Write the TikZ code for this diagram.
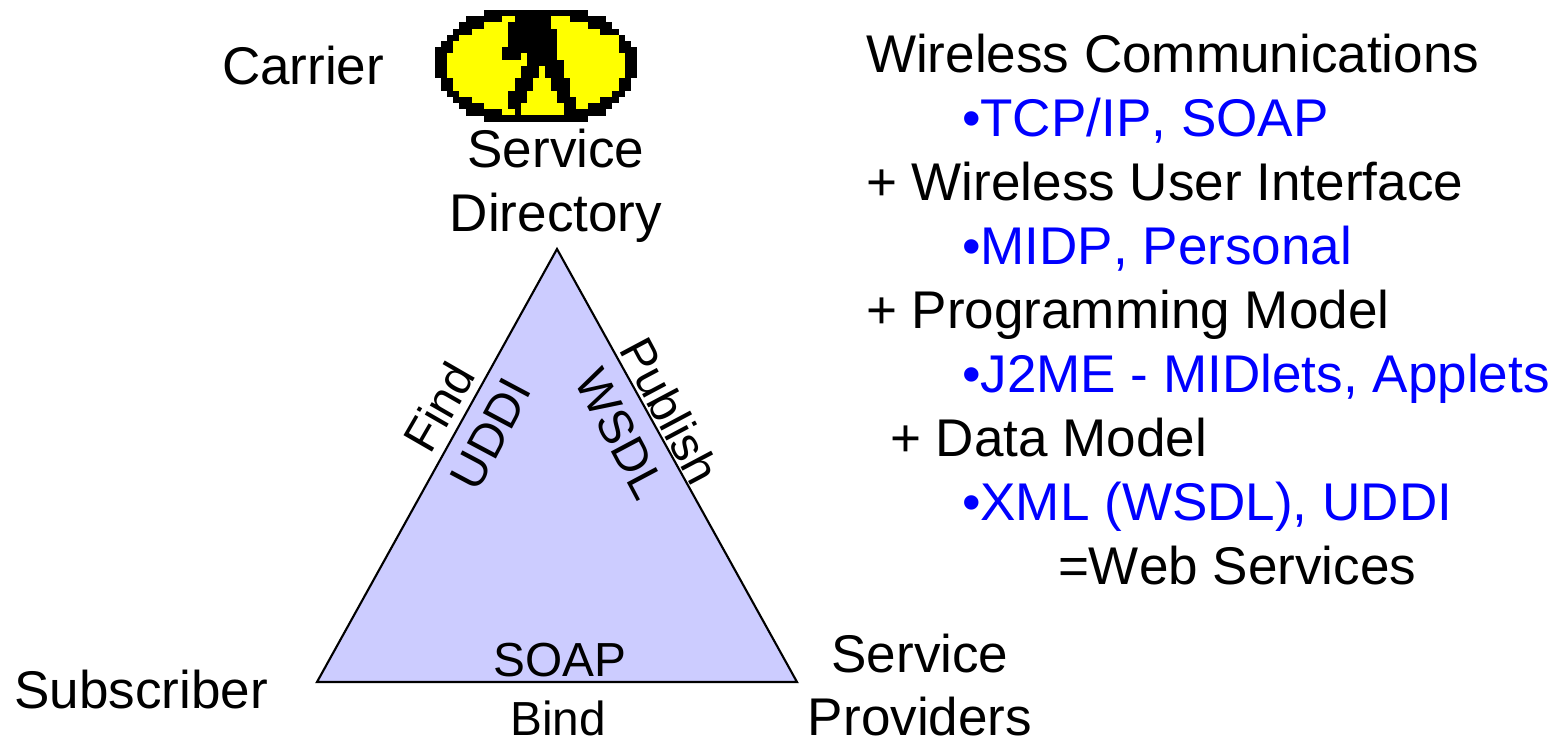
\documentclass[tikz,border=0pt]{standalone}
\usepackage{fontspec}
\setmainfont[Kerning=Off]{Liberation Sans}
\definecolor{triblue}{RGB}{204,204,255}
\definecolor{textblue}{RGB}{0,0,255}
\definecolor{iconyellow}{RGB}{255,255,0}
\tikzset{
    lbl/.style={inner sep=0pt,outer sep=0pt,align=center,font=\fontsize{30.2}{36.3}\selectfont},
    small/.style={lbl,font=\fontsize{27.2}{36.3}\selectfont},
    item/.style={inner sep=0pt,outer sep=0pt,anchor=base west,font=\fontsize{30.2}{36.3}\selectfont},
    bluetext/.style={item,text=textblue},
}
\begin{document}
\begin{tikzpicture}[x=0.02cm,y=-0.02cm]
        \useasboundingbox (0,0) rectangle (1560,738);
        \foreach \r/\a/\b in {0/8/25,1/5/28,2/4/29,3/3/30,4/2/31,5/1/32,6/0/33,7/0/33,8/0/33,9/0/33,10/0/33,11/1/32,12/1/32,13/2/31,14/3/30,15/4/29,16/5/28,17/8/25}{
            \fill[black] (435+\a*6.12,10+\r*6.2) rectangle (435+\b*6.12,10+\r*6.2+6.3);
        }
        \foreach \r/\a/\b in {1/11/13,2/8/12,3/6/12,4/4/12,5/3/12,6/3/11,7/2/11,7/14/15,8/2/15,9/2/14,10/2/14,11/3/13,12/3/13,13/4/12,14/6/12,15/8/12,16/11/13,
            1/19/22,2/19/25,3/20/27,4/20/30,5/20/30,6/20/30,7/20/31,8/21/31,9/21/31,10/21/31,11/22/30,12/22/30,13/22/29,14/23/27,15/23/25,
            9/17/18,10/17/18,11/16/19,12/16/19,13/15/20,14/15/20,15/14/21,16/14/21}{
            \fill[iconyellow] (435+\a*6.12,10+\r*6.2) rectangle (435+\b*6.12,10+\r*6.2+6.2);
        }
        \coordinate (top) at (557,249);
        \coordinate (right) at (797,682);
        \coordinate (left) at (317,682);
        \draw[fill=triblue,line width=1.2pt,line join=miter] (top) -- (right) -- (left) -- cycle;
        \node[item] (carrier) at (222,84) {Carrier};
        \node[lbl] (directory) at (556,186) {Service\\Directory};
        \node[lbl] (subscriber) at (141,690) {Subscriber};
        \node[lbl] (providers) at (920,685) {Service\\Providers};
        \node[small] (soap) at (560,660) {SOAP};
        \node[small] (bind) at (558,718) {Bind};
        \node[small,rotate=60] (find) at (439,407) {Find};
        \node[small,rotate=62] (uddi) at (491,434) {UDDI};
        \node[small,rotate=-62] (publish) at (670,411) {Publish};
        \node[small,rotate=-62] (wsdl) at (620,434) {WSDL};
        \node[item] (comm) at (866,72) {Wireless Communications};
        \node[bluetext] (tcp) at (962,136) {•TCP/IP, SOAP};
        \node[item] (ui) at (866,200) {+ Wireless User Interface};
        \node[bluetext] (midp) at (962,264) {•MIDP, Personal};
        \node[item] (prog) at (866,328) {+ Programming Model};
        \node[bluetext] (j2me) at (962,392) {•J2ME - MIDlets, Applets};
        \node[item] (data) at (890,456) {+ Data Model};
        \node[bluetext] (xml) at (962,520) {•XML (WSDL), UDDI};
        \node[item] (web) at (1058,584) {=Web Services};
\end{tikzpicture}
\end{document}
